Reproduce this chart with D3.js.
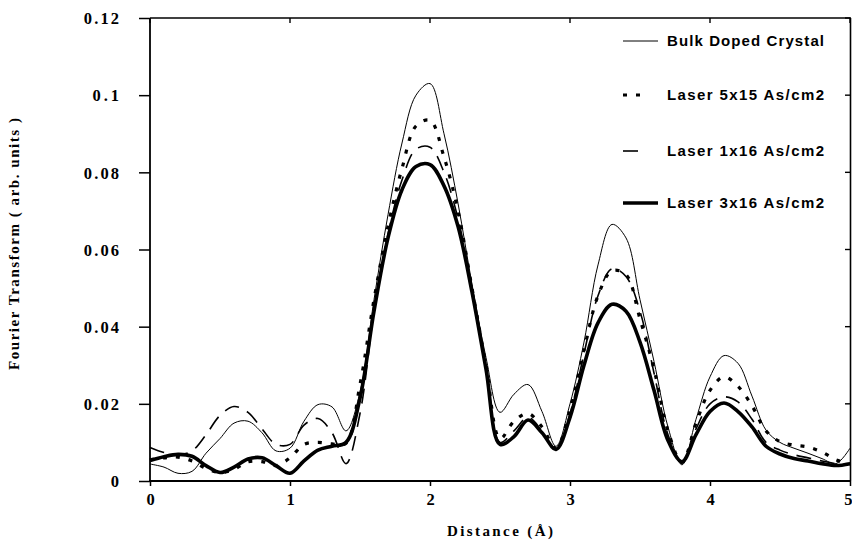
<!DOCTYPE html>
<html><head><meta charset="utf-8">
<script src="https://cdn.jsdelivr.net/npm/d3@7"></script>
<style>body{margin:0;background:#fff}svg{display:block}</style>
</head><body>
<svg id="c" width="852" height="541"></svg>
<script>
const distance = [0,0.1,0.2,0.3,0.4,0.5,0.6,0.7,0.8,0.9,1.0,1.1,1.2,1.3,1.4,1.5,1.6,1.7,1.8,1.9,2.0,2.1,2.2,2.3,2.4,2.5,2.6,2.7,2.8,2.9,3.0,3.1,3.2,3.3,3.4,3.5,3.6,3.7,3.8,3.9,4.0,4.1,4.2,4.3,4.4,4.5,4.6,4.7,4.8,4.9,5.0];
const bulkDoped = [0.0044,0.0036,0.0020,0.0025,0.0072,0.0110,0.0150,0.0155,0.0125,0.0078,0.0085,0.0155,0.0198,0.0192,0.0130,0.0230,0.0470,0.0690,0.0876,0.1000,0.1030,0.0900,0.0720,0.0510,0.0320,0.0178,0.0225,0.0250,0.0180,0.0090,0.0200,0.0360,0.0560,0.0665,0.0630,0.0470,0.0310,0.0140,0.0042,0.0160,0.0270,0.0325,0.0305,0.0220,0.0132,0.0100,0.0085,0.0072,0.0058,0.0045,0.0085];
const laser5x15 = [0.0055,0.0060,0.0062,0.0052,0.0033,0.0022,0.0030,0.0050,0.0050,0.0040,0.0060,0.0095,0.0100,0.0096,0.0098,0.0250,0.0470,0.0660,0.0810,0.0920,0.0935,0.0840,0.0700,0.0500,0.0300,0.0110,0.0155,0.0175,0.0140,0.0085,0.0185,0.0340,0.0480,0.0545,0.0535,0.0420,0.0290,0.0130,0.0048,0.0150,0.0235,0.0270,0.0245,0.0195,0.0130,0.0102,0.0093,0.0088,0.0075,0.0055,0.0045];
const laser1x16 = [0.0087,0.0074,0.0068,0.0078,0.0120,0.0170,0.0193,0.0178,0.0135,0.0095,0.0095,0.0145,0.0162,0.0125,0.0045,0.0175,0.0440,0.0640,0.0780,0.0860,0.0865,0.0800,0.0680,0.0500,0.0300,0.0100,0.0130,0.0165,0.0130,0.0082,0.0175,0.0330,0.0480,0.0550,0.0530,0.0440,0.0280,0.0120,0.0048,0.0135,0.0200,0.0218,0.0205,0.0160,0.0100,0.0080,0.0068,0.0060,0.0052,0.0045,0.0045];
const laser3x16 = [0.0053,0.0063,0.0069,0.0064,0.0040,0.0022,0.0036,0.0057,0.0060,0.0040,0.0020,0.0052,0.0080,0.0090,0.0100,0.0215,0.0440,0.0630,0.0755,0.0815,0.0820,0.0765,0.0660,0.0490,0.0290,0.0095,0.0115,0.0158,0.0125,0.0082,0.0165,0.0300,0.0410,0.0458,0.0440,0.0360,0.0235,0.0105,0.0050,0.0120,0.0180,0.0202,0.0180,0.0140,0.0090,0.0070,0.0058,0.0052,0.0045,0.0040,0.0045];
const seriesNames = ["Bulk Doped Crystal","Laser 5x15 As/cm2","Laser 1x16 As/cm2","Laser 3x16 As/cm2"];
const xTicks = [0,1,2,3,4,5];
const yTicks = [0,0.02,0.04,0.06,0.08,0.1,0.12];
const xTitle = "Distance (Å)";
const yTitle = "Fourier Transform ( arb. units )";

const svg = d3.select("#c");
const L = 150, R = 850, T = 18, B = 481;
const x = d3.scaleLinear().domain([0,5]).range([L,R]);
const y = d3.scaleLinear().domain([0,0.12]).range([B,T]);
const serif = "'Liberation Serif','Times New Roman',serif";
const sans = "'Liberation Sans',Arial,sans-serif";

// frame: top and right
svg.append("line").attr("x1",L).attr("x2",R+1).attr("y1",T).attr("y2",T).attr("stroke","#000").attr("stroke-width",1.6);
svg.append("line").attr("x1",R+0.5).attr("x2",R+0.5).attr("y1",T).attr("y2",B).attr("stroke","#000").attr("stroke-width",1.6);
// inner ticks on top and right
svg.append("g").selectAll("line").data(xTicks).join("line")
  .attr("x1",d=>x(d)).attr("x2",d=>x(d)).attr("y1",T).attr("y2",T+5).attr("stroke","#000").attr("stroke-width",1.4);
svg.append("g").selectAll("line").data(yTicks).join("line")
  .attr("x1",R-5).attr("x2",R).attr("y1",d=>y(d)).attr("y2",d=>y(d)).attr("stroke","#000").attr("stroke-width",1.4);

// axes
const xAxis = d3.axisBottom(x).tickValues(xTicks).tickFormat(d3.format("d")).tickSizeOuter(0).tickSize(5).tickPadding(7);
const gx = svg.append("g").attr("transform",`translate(0,${B})`).call(xAxis);
const yAxis = d3.axisLeft(y).tickValues(yTicks).tickFormat(d=>d===0?"0":String(+d.toFixed(2))).tickSizeOuter(0).tickSize(11).tickPadding(30);
const gy = svg.append("g").attr("transform",`translate(${L},0)`).call(yAxis);
[gx,gy].forEach(g=>{
  g.select(".domain").attr("stroke","#000").attr("stroke-width",1.8);
  g.selectAll(".tick line").attr("stroke","#000").attr("stroke-width",1.5);
  g.selectAll("text").attr("font-family",serif).attr("font-weight","bold").attr("font-size",16.5).attr("fill","#000");
});
gy.selectAll("text").attr("dy","0.35em").attr("text-anchor","end")
  .each(function(){ const t=d3.select(this); const n=t.text().length; t.attr("textLength", n*8.8).attr("lengthAdjust","spacing").attr("x",-31); });
// last x label sits at the window edge: keep it fully inside
gx.selectAll(".tick text").filter(d=>d===5).attr("text-anchor","end").attr("x",2);
gx.select(".domain").attr("d",`M${L-1},0H${R+1}`);
gy.select(".domain").attr("d",`M0,${B}V${T}`);

svg.append("text").attr("x",500).attr("y",536).attr("text-anchor","middle")
  .attr("font-family",serif).attr("font-weight","bold").attr("font-size",15)
  .attr("textLength",106).attr("lengthAdjust","spacing").text(xTitle);
svg.append("text").attr("transform","translate(19,244) rotate(-90)").attr("text-anchor","middle")
  .attr("font-family",serif).attr("font-weight","bold").attr("font-size",15)
  .attr("textLength",252).attr("lengthAdjust","spacing").text(yTitle);

const styles = [
  {w:1, dash:null},
  {w:3.2, dash:"4,9"},
  {w:1.6, dash:"15,9"},
  {w:3.6, dash:null}
];
const seriesVals = [bulkDoped, laser5x15, laser1x16, laser3x16];
const line = d3.line().x(d=>x(d[0])).y(d=>y(d[1])).curve(d3.curveCatmullRom.alpha(0.5));
seriesVals.forEach((vals,i)=>{
  svg.append("path").datum(distance.map((d,j)=>[d,vals[j]]))
    .attr("d",line).attr("fill","none").attr("stroke","#000")
    .attr("stroke-width",styles[i].w).attr("stroke-dasharray",styles[i].dash)
    .attr("stroke-linejoin","round");
});

// legend
const legY = [41,95,151,203];
const legLen = [35,24,22,35];
const lg = svg.append("g");
seriesNames.forEach((n,i)=>{
  lg.append("line").attr("x1",623).attr("x2",623+legLen[i]).attr("y1",legY[i]).attr("y2",legY[i])
    .attr("stroke","#000").attr("stroke-width",styles[i].w).attr("stroke-dasharray",styles[i].dash);
  lg.append("text").attr("x",667).attr("y",legY[i]+5).attr("font-family",sans).attr("font-weight","bold")
    .attr("font-size",15).attr("textLength",157).attr("lengthAdjust","spacing").text(n);
});
</script>
</body></html>
